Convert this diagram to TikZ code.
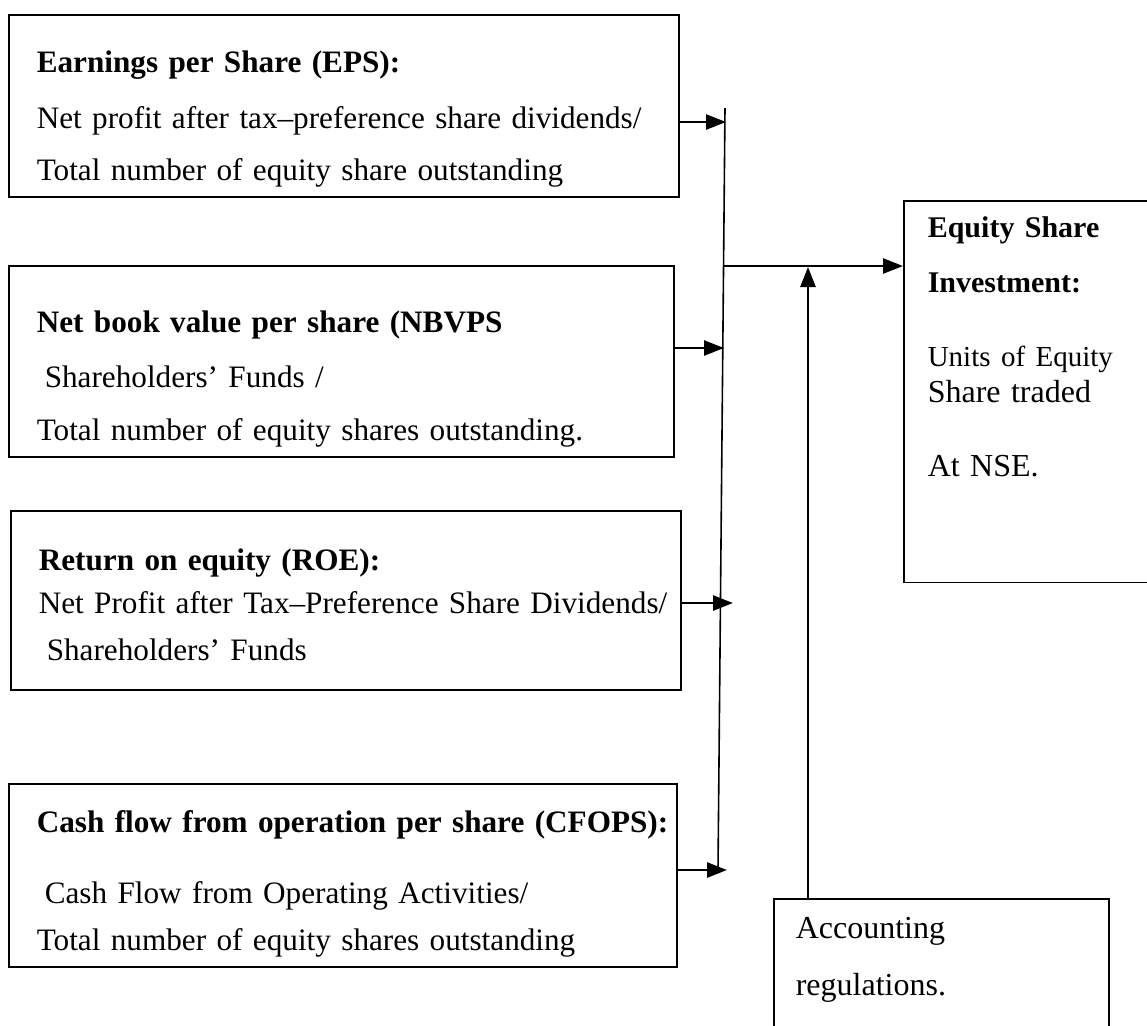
\documentclass[tikz,border=0pt]{standalone}
\usepackage{fontspec}
\setmainfont{Liberation Serif}
\usetikzlibrary{arrows.meta}
\usetikzlibrary{positioning}
\usetikzlibrary{calc}

\begin{document}
\begin{tikzpicture}[x=0.5pt, y=-0.5pt]
 \tikzstyle{ratio} = [draw, line width=0.8pt, anchor=north west, align=left, inner xsep=14pt, inner ysep=0pt, font=\fontsize{15.6}{18}\selectfont];
 \useasboundingbox (0,0) rectangle (1147,1025);

 \node (eps) [ratio, text width=307pt] at (8,14) {\rule{0pt}{29pt}\textbf{Earnings per Share (EPS):}\\[10pt]\mbox{Net profit after tax–preference share dividends/}\\[8pt]Total number of equity share outstanding\rule[-8pt]{0pt}{0pt}};
 \node (nbvps) [ratio, text width=304.5pt] at (8,265) {\rule{0pt}{33.5pt}\textbf{Net book value per share (NBVPS}\\[9.5pt]\hspace*{4pt}Shareholders' Funds /\\[8.5pt]Total number of equity shares outstanding.\rule[-8pt]{0pt}{0pt}};
 \node (roe) [ratio, text width=307pt] at (10,510) {\rule{0pt}{30pt}\textbf{Return on equity (ROE):}\\[3.5pt]\mbox{Net Profit after Tax–Preference Share Dividends/}\\[5.5pt]\hspace*{4pt}Shareholders' Funds\rule[-14.5pt]{0pt}{0pt}};
 \node (cfops) [ratio, text width=306pt] at (8,783) {\rule{0pt}{24.5pt}\mbox{\textbf{Cash flow from operation per share (CFOPS):}}\\[17.5pt]\hspace*{4pt}Cash Flow from Operating Activities/\\[5.5pt]Total number of equity shares outstanding\rule[-8pt]{0pt}{0pt}};

 \node (equity) [ratio, text width=110pt, inner xsep=12pt, inner ysep=8pt] at (903,200) {{\fontsize{15}{18}\selectfont\bfseries Equity Share}\\[9.5pt] {\fontsize{15}{18}\selectfont\bfseries Investment:}\\[19pt] {\fontsize{14.5}{18}\selectfont Units of Equity}\\ {\fontsize{16}{18}\selectfont Share traded}\\[19pt] {\fontsize{16}{18}\selectfont At NSE.}\rule[-45pt]{0pt}{0pt}};
 \node (acct) [ratio, text width=145.5pt, inner xsep=11pt, inner ysep=9pt, font=\fontsize{16}{18}\selectfont] at (773,898) {Accounting\\[10.5pt] regulations.\rule[-40pt]{0pt}{0pt}};

 \tikzstyle{C} = [color=black, line width=1.3pt, -{Triangle[length=10pt, width=7.5pt]}];

 \coordinate (trunktop) at (725,108);
 \coordinate (trunkbot) at (718,870);
 \draw [line width=0.8pt] (trunktop) -- (trunkbot);

 \coordinate (in1) at (726,122);
 \coordinate (in2) at (724,348);
 \coordinate (in3) at (733,603);
 \coordinate (in4) at (727,870);
 \draw [C] (eps.east |- in1) -- (in1);
 \draw [C] (nbvps.east |- in2) -- (in2);
 \draw [C] (roe.east |- in3) -- (in3);
 \draw [C] (cfops.east |- in4) -- (in4);

 \coordinate (join) at (724,266);
 \draw [C] (join) -- (join -| equity.west);
 \coordinate (upend) at (808,267);
 \draw [C] (acct.north west -| upend) -- (upend);
\end{tikzpicture}
\end{document}
